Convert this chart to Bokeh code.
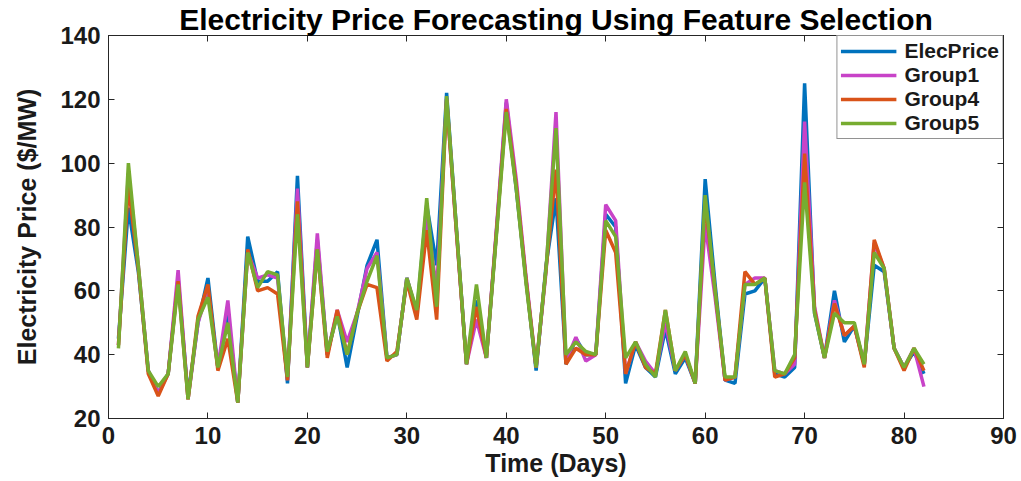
from bokeh.plotting import figure
from bokeh.models import (LinearAxis, FixedTicker, Legend, LegendItem, Range1d)
from bokeh.embed import file_html
from bokeh.resources import INLINE

days = list(range(1, 83))

elec_price = [45, 86, 66, 35, 28, 34, 64, 27, 50, 64,
              36, 53, 25, 77, 63, 63, 66, 31, 96, 36,
              76, 40, 53, 36, 52, 68, 76, 39, 40, 64,
              53, 87, 68, 122, 79, 37, 57, 39, 78, 119,
              92, 63, 35, 68, 89, 37, 45, 40, 40, 84,
              80, 31, 43, 36, 33, 48, 34, 39, 31, 95,
              62, 32, 31, 59, 60, 64, 34, 33, 36, 125,
              53, 39, 60, 44, 49, 37, 68, 66, 42, 36,
              41, 34]

group1 = [43, 97, 68, 35, 28, 34, 66.5, 26, 50, 60,
          36, 57, 25, 72, 64, 65, 64, 32, 92, 36,
          78, 40, 54, 44, 53, 67, 72, 39, 40, 64,
          53, 84, 60, 120, 78, 37, 51, 39, 79, 120,
          95, 64, 36, 66, 116, 38, 45.5, 38, 40, 87,
          82, 34, 44, 38, 34, 50, 35, 40, 31, 81,
          58, 32, 33, 62, 64, 64, 35, 34, 37, 113,
          55, 39, 57, 46, 49, 37, 75, 67, 42, 36,
          42, 30]

group4 = [43, 93, 67, 34, 27, 34, 63, 26, 52, 62,
          35, 45, 25, 73, 60, 61, 59, 32, 88, 36,
          73, 39, 54, 40, 53, 62, 61, 38, 41, 63,
          51, 79, 51, 120, 78, 37, 55, 39, 78, 117,
          93, 63, 36, 67, 98, 37, 42, 40, 40, 79,
          72, 34, 44, 36, 34, 54, 35, 40, 31, 88,
          60, 32, 33, 66, 62, 64, 33, 34, 39, 103,
          54, 39, 56, 46, 49, 36, 76, 67, 42, 35,
          42, 35]

group5 = [42, 100, 68, 35, 30, 34, 62, 26, 51, 58,
          36, 50, 25, 72, 61, 66, 65, 33, 84, 36,
          73, 41, 52, 40, 53, 63, 71, 39, 40, 64,
          54, 89, 55, 121, 79, 37, 62, 39, 77, 116,
          92, 62, 36, 67, 111, 40, 44, 41, 40, 82,
          77, 39, 44, 37, 33, 54, 35, 41, 31, 90,
          60, 33, 33, 62, 62, 64, 35, 34, 40, 94,
          53, 39, 53, 50, 50, 37, 72, 67, 42, 36,
          42, 37]

series_names = ["ElecPrice", "Group1", "Group4", "Group5"]
series_colors = ["#0072BD", "#C843C8", "#D95319", "#77AC30"]
x_ticks = [0, 10, 20, 30, 40, 50, 60, 70, 80, 90]
y_ticks = [20, 40, 60, 80, 100, 120, 140]

FONT = "Liberation Sans"

p = figure(width=1021, height=481, x_range=Range1d(0, 90), y_range=Range1d(20, 140),
           output_backend="svg", toolbar_location=None,
           min_border_left=108, min_border_right=18, min_border_top=0, min_border_bottom=63)
p.background_fill_color = "white"
p.border_fill_color = "white"
p.outline_line_color = "#262626"
p.outline_line_width = 1
p.xgrid.visible = False
p.ygrid.visible = False

p.title.text = "Electricity Price Forecasting Using Feature Selection"
p.title.text_font = FONT
p.title.text_font_style = "bold"
p.title.text_font_size = "30px"
p.title.align = "center"
p.title.standoff = 0
p.title.offset = 0
p.title.text_color = "#000000"

def style_axis(ax, ticks, show_labels):
    ax.ticker = FixedTicker(ticks=ticks)
    ax.axis_line_color = "#262626"
    ax.major_tick_line_color = "#262626"
    ax.major_tick_in = 6
    ax.major_tick_out = 0
    ax.minor_tick_line_color = None
    ax.minor_tick_in = 0
    ax.minor_tick_out = 0
    if show_labels:
        ax.major_label_text_font = FONT
        ax.major_label_text_font_style = "bold"
        ax.major_label_text_font_size = "24px"
        ax.major_label_text_color = "#1a1a1a"
    else:
        ax.major_label_overrides = {t: "" for t in ticks}
        ax.major_label_text_font_size = "1px"
        ax.major_label_standoff = 0
        ax.axis_label_standoff = 0

style_axis(p.xaxis[0], x_ticks, True)
style_axis(p.yaxis[0], y_ticks, True)
p.xaxis[0].major_label_standoff = 8
p.yaxis[0].major_label_standoff = 8
p.xaxis[0].axis_label = "Time (Days)"
p.xaxis[0].axis_label_text_font = FONT
p.xaxis[0].axis_label_text_font_style = "bold"
p.xaxis[0].axis_label_text_font_size = "25px"
p.xaxis[0].axis_label_text_color = "#1a1a1a"
p.xaxis[0].axis_label_standoff = 2
p.yaxis[0].axis_label = "Electricity Price ($/MW)"
p.yaxis[0].axis_label_text_font = FONT
p.yaxis[0].axis_label_text_font_style = "bold"
p.yaxis[0].axis_label_text_font_size = "25px"
p.yaxis[0].axis_label_text_color = "#1a1a1a"
p.yaxis[0].axis_label_standoff = 16

top_ax = LinearAxis()
style_axis(top_ax, x_ticks, False)
p.add_layout(top_ax, "above")
right_ax = LinearAxis()
style_axis(right_ax, y_ticks, False)
p.add_layout(right_ax, "right")

all_series = [elec_price, group1, group4, group5]
items = []
for name, col, vals in zip(series_names, series_colors, all_series):
    r = p.line(days, vals, line_color=col, line_width=3.5)
    items.append(LegendItem(label=name, renderers=[r]))

legend = Legend(items=items, location="top_right")
legend.margin = 0
legend.padding = 3
legend.spacing = 0
legend.glyph_width = 56
legend.glyph_height = 24
legend.label_height = 24
legend.label_standoff = 8
legend.label_text_font = FONT
legend.label_text_font_style = "bold"
legend.label_text_font_size = "21px"
legend.label_text_color = "#1a1a1a"
legend.border_line_color = "#262626"
legend.border_line_width = 1
legend.background_fill_color = "white"
legend.background_fill_alpha = 1
p.add_layout(legend)

open("out.html", "w").write(file_html(p, INLINE))
